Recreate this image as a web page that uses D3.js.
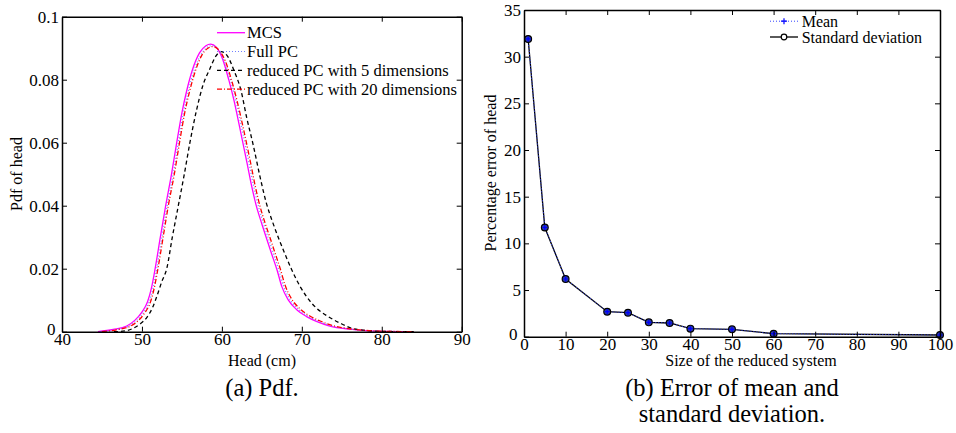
<!DOCTYPE html>
<html>
<head>
<meta charset="utf-8">
<script src="https://d3js.org/d3.v7.min.js"></script>
<style>
  body { margin: 0; background: #fff; }
  svg text { font-family: "Liberation Serif", "Times New Roman", serif; fill: #000; }
</style>
</head>
<body>
<div id="chart"></div>
<script>
// ---- data ----
// (a) pdf of head, [head (cm), pdf]
var mcs = [[44.5,0],[46.4,0.0007],[48.1,0.0018],[49.1,0.0036],[50.0,0.0062],[50.7,0.0095],[51.2,0.014],[51.65,0.02],[52.3,0.03],[52.97,0.04],[53.7,0.05],[54.35,0.06],[55.0,0.0695],[55.6,0.0765],[56.3,0.083],[57.2,0.0885],[58.0,0.0908],[58.6,0.0913],[59.3,0.0903],[60.1,0.0865],[60.86,0.08],[61.5,0.0736],[62.3,0.064],[63.15,0.0535],[63.7,0.0465],[64.3,0.04],[65.0,0.0342],[65.6,0.0295],[66.25,0.0245],[66.9,0.0196],[67.5,0.0143],[68.3,0.0101],[69.4,0.0069],[70.6,0.0048],[71.9,0.0032],[73.5,0.0018],[76,0.0008],[79,0.0002],[84,0]];
var fullPC = [[44.8,0],[46.6,0.0006],[48.3,0.0017],[49.3,0.0035],[50.2,0.0061],[50.9,0.0094],[51.4,0.014],[51.85,0.02],[52.5,0.03],[53.15,0.04],[53.9,0.05],[54.55,0.06],[55.2,0.0695],[55.8,0.0763],[56.5,0.0828],[57.4,0.088],[58.15,0.0903],[58.75,0.0908],[59.45,0.0898],[60.3,0.086],[61.1,0.0797],[61.75,0.0734],[62.55,0.0639],[63.4,0.0535],[63.95,0.0465],[64.55,0.04],[65.2,0.0344],[65.8,0.0298],[66.45,0.0248],[67.1,0.0198],[67.7,0.0146],[68.5,0.0103],[69.6,0.0071],[70.8,0.0049],[72.1,0.0033],[73.7,0.0019],[76.2,0.0008],[79.2,0.0002],[84,0]];
var reduced5 = [[46.5,0],[48.0,0.0003],[49.0,0.0012],[49.8,0.0025],[50.6,0.0045],[51.3,0.0075],[51.9,0.0115],[52.5,0.016],[53.1,0.02],[53.8,0.03],[54.55,0.04],[55.3,0.05],[56.0,0.06],[56.8,0.07],[57.6,0.078],[58.5,0.0835],[59.2,0.0873],[59.9,0.0889],[60.7,0.0875],[61.5,0.083],[62.4,0.0765],[63.1,0.068],[63.9,0.0595],[64.7,0.05],[65.6,0.0405],[66.25,0.0355],[67.2,0.029],[68.0,0.024],[68.75,0.0196],[69.8,0.0143],[71.25,0.009],[72.3,0.0065],[73.3,0.0048],[74.8,0.0027],[76,0.0013],[78,0.0004],[80,0.0001],[84,0]];
var reduced20 = [[45,0],[46.8,0.0006],[48.5,0.0017],[49.5,0.0034],[50.35,0.006],[51.05,0.0093],[51.55,0.014],[52.0,0.02],[52.65,0.03],[53.3,0.04],[54.05,0.05],[54.7,0.06],[55.35,0.0695],[55.95,0.0762],[56.65,0.0825],[57.5,0.0878],[58.25,0.09],[58.85,0.0905],[59.6,0.0895],[60.45,0.0858],[61.25,0.0795],[61.9,0.0733],[62.75,0.0638],[63.6,0.0535],[64.15,0.0465],[64.75,0.04],[65.4,0.0345],[66.0,0.03],[66.65,0.025],[67.3,0.02],[67.9,0.0148],[68.7,0.0105],[69.8,0.0072],[71.0,0.005],[72.3,0.0034],[73.9,0.0019],[76.4,0.0008],[79.5,0.0002],[84,0]];
var pdfNames = ["MCS", "Full PC", "reduced PC with 5 dimensions", "reduced PC with 20 dimensions"];
var pdfTicksX = [40, 50, 60, 70, 80, 90];
var pdfTicksY = [0, 0.02, 0.04, 0.06, 0.08, 0.1];

// (b) percentage error vs size of reduced system
var sizes = [1, 5, 10, 20, 25, 30, 35, 40, 50, 60, 100];
var errMean = [31.9, 11.7, 6.18, 2.68, 2.57, 1.54, 1.47, 0.86, 0.79, 0.32, 0.18];
var errStd = [31.9, 11.7, 6.18, 2.68, 2.57, 1.54, 1.47, 0.86, 0.79, 0.32, 0.18];
var errNames = ["Mean", "Standard deviation"];
var errTicksX = [0, 10, 20, 30, 40, 50, 60, 70, 80, 90, 100];
var errTicksY = [0, 5, 10, 15, 20, 25, 30, 35];

var W = 956, H = 433;
var svg = d3.select("#chart").append("svg").attr("width", W).attr("height", H);

// draws a MATLAB style box with inward ticks on all sides
function box(x, y, tx, ty, fmtY) {
  var g = svg.append("g");
  var x0 = x.range()[0], x1 = x.range()[1], y0 = y.range()[0], y1 = y.range()[1];
  g.append("g").attr("transform", "translate(0," + y0 + ")")
    .call(d3.axisBottom(x).tickValues(tx).tickSizeInner(-5).tickSizeOuter(0).tickPadding(1).tickFormat(d3.format("d")));
  g.append("g").attr("transform", "translate(0," + y1 + ")")
    .call(d3.axisTop(x).tickValues(tx).tickSizeInner(-5).tickSizeOuter(0).tickFormat(""));
  var left = g.append("g").attr("transform", "translate(" + x0 + ",0)")
    .call(d3.axisLeft(y).tickValues(ty).tickSizeInner(-5).tickSizeOuter(0).tickPadding(3).tickFormat(fmtY));
  g.append("g").attr("transform", "translate(" + x1 + ",0)")
    .call(d3.axisRight(y).tickValues(ty).tickSizeInner(-5).tickSizeOuter(0).tickFormat(""));
  g.selectAll(".domain").attr("stroke", "#000").attr("stroke-width", 1.5);
  g.selectAll(".tick line").attr("stroke", "#000").attr("stroke-width", 1);
  g.selectAll(".tick text").attr("font-family", "Liberation Serif").attr("font-size", 17).attr("fill", "#000");
  // nudge the zero label up-left, as in the original, so it clears the x labels
  left.selectAll(".tick text").filter(d => d === 0).attr("dx", "-0.2em").attr("dy", "0.15em");
  return g;
}

// ---------------- (a) ----------------
var xa = d3.scaleLinear().domain([40, 90]).range([62, 461.7]);
var ya = d3.scaleLinear().domain([0, 0.1]).range([331.7, 16.7]);

var lineA = d3.line().x(d => xa(d[0])).y(d => ya(d[1])).curve(d3.curveMonotoneX);
var styleA = [
  {data: mcs, color: "#ff00ff", dash: null, w: 1.3},
  {data: fullPC, color: "#7080ff", dash: "1,2", w: 1.2},
  {data: reduced5, color: "#000", dash: "4,3", w: 1.3},
  {data: reduced20, color: "#ff0000", dash: "5,2,1,2", w: 1.3}
];
styleA.forEach(function(s) {
  svg.append("path").datum(s.data).attr("d", lineA)
    .attr("fill", "none").attr("stroke", s.color).attr("stroke-width", s.w)
    .attr("stroke-dasharray", s.dash);
});

box(xa, ya, pdfTicksX, pdfTicksY, d => d === 0 ? "0" : String(+d.toFixed(2)));

var legA = svg.append("g");
pdfNames.forEach(function(n, i) {
  var ly = 32.7 + i * 18.8;
  legA.append("line").attr("x1", 217).attr("x2", 245).attr("y1", ly).attr("y2", ly)
    .attr("stroke", styleA[i].color).attr("stroke-width", styleA[i].w).attr("stroke-dasharray", styleA[i].dash);
  legA.append("text").attr("x", 247).attr("y", ly).attr("dy", "0.35em").attr("font-size", 16.5).text(n);
});

svg.append("text").attr("x", 262).attr("y", 366).attr("text-anchor", "middle").attr("font-size", 16).text("Head (cm)");
svg.append("text").attr("transform", "translate(22,174) rotate(-90)").attr("text-anchor", "middle").attr("font-size", 16).text("Pdf of head");
svg.append("text").attr("x", 262).attr("y", 396).attr("text-anchor", "middle").attr("font-size", 24.5).text("(a) Pdf.");

// ---------------- (b) ----------------
var xb = d3.scaleLinear().domain([0, 100]).range([524, 940]);
var yb = d3.scaleLinear().domain([0, 35]).range([336.7, 10]);

var meanPts = sizes.map((s, i) => [s, errMean[i]]);
var stdPts = sizes.map((s, i) => [s, errStd[i]]);
var lineB = d3.line().x(d => xb(d[0])).y(d => yb(d[1]));

svg.append("path").datum(stdPts).attr("d", lineB)
  .attr("fill", "none").attr("stroke", "#000").attr("stroke-width", 1.3);
svg.append("path").datum(meanPts).attr("d", lineB)
  .attr("fill", "none").attr("stroke", "#3040ff").attr("stroke-width", 1).attr("stroke-dasharray", "1,2");

svg.selectAll(".stdmark").data(stdPts).enter().append("circle").attr("class", "stdmark")
  .attr("cx", d => xb(d[0])).attr("cy", d => yb(d[1])).attr("r", 3.4)
  .attr("fill", "#2a3aa8").attr("stroke", "#000").attr("stroke-width", 1.2);
svg.selectAll(".meanmark").data(meanPts).enter().append("path").attr("class", "meanmark")
  .attr("d", d => "M" + (xb(d[0]) - 2.5) + "," + yb(d[1]) + "h5M" + xb(d[0]) + "," + (yb(d[1]) - 2.5) + "v5")
  .attr("stroke", "#0000ff").attr("stroke-width", 1.2);

box(xb, yb, errTicksX, errTicksY, d3.format("d"));

var legB = svg.append("g");
var legBy = [21.2, 37];
legB.append("line").attr("x1", 770).attr("x2", 798).attr("y1", legBy[0]).attr("y2", legBy[0])
  .attr("stroke", "#3040ff").attr("stroke-width", 1).attr("stroke-dasharray", "1,2");
legB.append("path").attr("d", "M781," + legBy[0] + "h6M784," + (legBy[0] - 3) + "v6").attr("stroke", "#0000ff").attr("stroke-width", 1.2);
legB.append("line").attr("x1", 770).attr("x2", 798).attr("y1", legBy[1]).attr("y2", legBy[1])
  .attr("stroke", "#000").attr("stroke-width", 1.3);
legB.append("circle").attr("cx", 784).attr("cy", legBy[1]).attr("r", 2.8).attr("fill", "#fff").attr("stroke", "#000").attr("stroke-width", 1.2);
errNames.forEach(function(n, i) {
  legB.append("text").attr("x", 801.7).attr("y", legBy[i]).attr("dy", "0.35em").attr("font-size", 16).text(n);
});

svg.append("text").attr("x", 751).attr("y", 366).attr("text-anchor", "middle").attr("font-size", 16).text("Size of the reduced system");
svg.append("text").attr("transform", "translate(496,173) rotate(-90)").attr("text-anchor", "middle").attr("font-size", 16).text("Percentage error of head");
svg.append("text").attr("x", 732).attr("y", 396).attr("text-anchor", "middle").attr("font-size", 24.5).text("(b) Error of mean and");
svg.append("text").attr("x", 732).attr("y", 422).attr("text-anchor", "middle").attr("font-size", 24.5).text("standard deviation.");
</script>
</body>
</html>
